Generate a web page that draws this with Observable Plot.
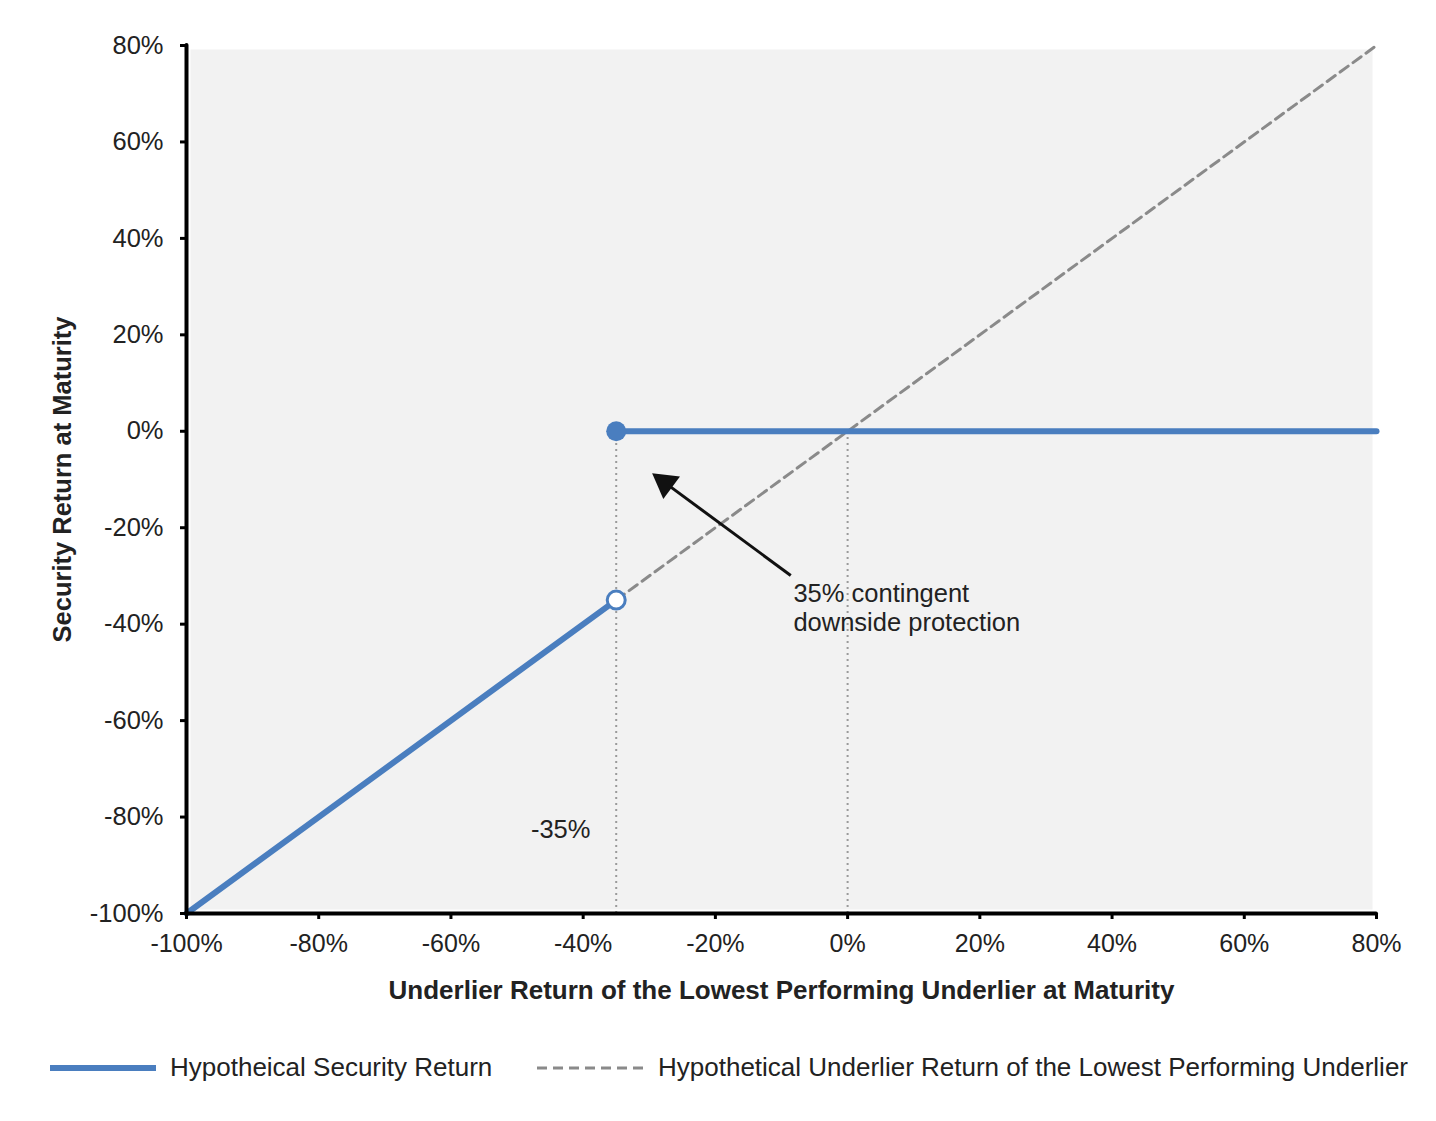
<!DOCTYPE html>
<html><head><meta charset="utf-8">
<script src="https://cdn.jsdelivr.net/npm/d3@7"></script>
<script src="https://cdn.jsdelivr.net/npm/@observablehq/plot@0.6"></script>
<style>
body{margin:0;background:#fff;font-family:"Liberation Sans",Arial,sans-serif;}
#chart{width:1436px;}
#legend{position:relative;width:1436px;height:91px;color:#222;font-size:26px;}
#legend .item{position:absolute;top:22px;display:flex;align-items:center;white-space:nowrap;}
#legend svg{margin-right:14px;}
</style></head><body>
<div id="chart"></div>
<div id="legend"></div>
<script>
const xTicks = [-100, -80, -60, -40, -20, 0, 20, 40, 60, 80];
const yTicks = [-100, -80, -60, -40, -20, 0, 20, 40, 60, 80];
const securityBelow = [{u: -100, r: -100}, {u: -35, r: -35}];
const securityAbove = [{u: -35, r: 0}, {u: 80, r: 0}];
const underlierLine = [{u: -35, r: -35}, {u: 80, r: 80}];
const guideX = [-35, 0];
const filledPoint = [{u: -35, r: 0}];
const openPoint = [{u: -35, r: -35}];
const arrowTail = {u: -8.6, r: -29.9};
const arrowHead = {u: -27.6, r: -10.7};
const noteLabel = [{u: -8.2, r: -31.2, text: "35% contingent\ndownside protection"}];
const barrierLabel = [{u: -43.4, r: -82.6, text: "-35%"}];
const xLabel = "Underlier Return of the Lowest Performing Underlier at Maturity";
const yLabel = "Security Return at Maturity";
const legendItems = ["Hypotheical Security Return", "Hypothetical Underlier Return of the Lowest Performing Underlier"];

const blue = "#4a7ebf";
const W = 1436, H = 1030;
const font = "'Liberation Sans', Arial, sans-serif";

const plot = Plot.plot({
  width: W, height: H,
  marginLeft: 186, marginRight: 60, marginTop: 45, marginBottom: H - 913,
  style: {fontFamily: font, background: "#fff", overflow: "visible"},
  x: {domain: [-100, 80]},
  y: {domain: [-100, 80]},
  marks: [
    Plot.frame({fill: "#f2f2f2", stroke: null, inset: 4}),
    Plot.ruleX(guideX, {y1: -100, y2: 0, stroke: "#9a9a9a", strokeWidth: 2, strokeDasharray: "2,4"}),
    Plot.line(underlierLine, {x: "u", y: "r", stroke: "#8a8a8a", strokeWidth: 3, strokeDasharray: "10,6"}),
    Plot.line(securityBelow, {x: "u", y: "r", stroke: blue, strokeWidth: 6}),
    Plot.line(securityAbove, {x: "u", y: "r", stroke: blue, strokeWidth: 6}),
    Plot.dot(filledPoint, {x: "u", y: "r", r: 10, fill: blue, stroke: null}),
    Plot.dot(openPoint, {x: "u", y: "r", r: 9, fill: "#fff", stroke: blue, strokeWidth: 3}),
    Plot.link([{a: arrowTail, b: arrowHead}], {x1: d => d.a.u, y1: d => d.a.r, x2: d => d.b.u, y2: d => d.b.r, stroke: "#111", strokeWidth: 3}),
    Plot.dot([arrowHead], {x: "u", y: "r", symbol: "triangle", r: 10.4, fill: "#111", stroke: null, rotate: -53.5}),
    Plot.text(noteLabel, {x: "u", y: "r", text: "text", textAnchor: "start", lineAnchor: "top", lineHeight: 1.13, fontSize: 25.5, fill: "#222"}),
    Plot.text(barrierLabel, {x: "u", y: "r", text: "text", fontSize: 25.5, fill: "#222"}),
    Plot.ruleY([-100], {x1: -100, x2: 80, stroke: "#000", strokeWidth: 4, strokeLinecap: "round"}),
    Plot.ruleX([-100], {y1: -100, y2: 80, stroke: "#000", strokeWidth: 4, strokeLinecap: "round"}),
    Plot.axisX(xTicks, {tickSize: 6, tickPadding: 15, strokeWidth: 3, stroke: "#000", fontSize: 25, fill: "#222", tickFormat: d => d + "%", label: null}),
    Plot.axisY(yTicks, {tickSize: 6, tickPadding: 17, strokeWidth: 3, stroke: "#000", fontSize: 25.5, fill: "#222", tickFormat: d => d + "%", label: null}),
    Plot.text([xLabel], {frameAnchor: "bottom", dy: 85, text: d => d, fontSize: 26, fontWeight: "bold", fill: "#222"}),
    Plot.text([yLabel], {frameAnchor: "left", textAnchor: "middle", dx: -124, rotate: -90, text: d => d, fontSize: 25.5, fontWeight: "bold", fill: "#222"})
  ]
});
document.getElementById("chart").appendChild(plot);

const legend = d3.select("#legend");
const it1 = legend.append("div").attr("class", "item").style("left", "50px");
const s1 = it1.append("svg").attr("width", 106).attr("height", 12);
s1.append("line").attr("x1", 0).attr("x2", 106).attr("y1", 6).attr("y2", 6).attr("stroke", blue).attr("stroke-width", 6);
it1.append("span").text(legendItems[0]);
const it2 = legend.append("div").attr("class", "item").style("left", "537px");
const s2 = it2.append("svg").attr("width", 111).attr("height", 12).style("margin-right", "10px");
s2.append("line").attr("x1", 0).attr("x2", 111).attr("y1", 6).attr("y2", 6).attr("stroke", "#8a8a8a").attr("stroke-width", 3).attr("stroke-dasharray", "10,6");
it2.append("span").text(legendItems[1]);
</script>
</body></html>
